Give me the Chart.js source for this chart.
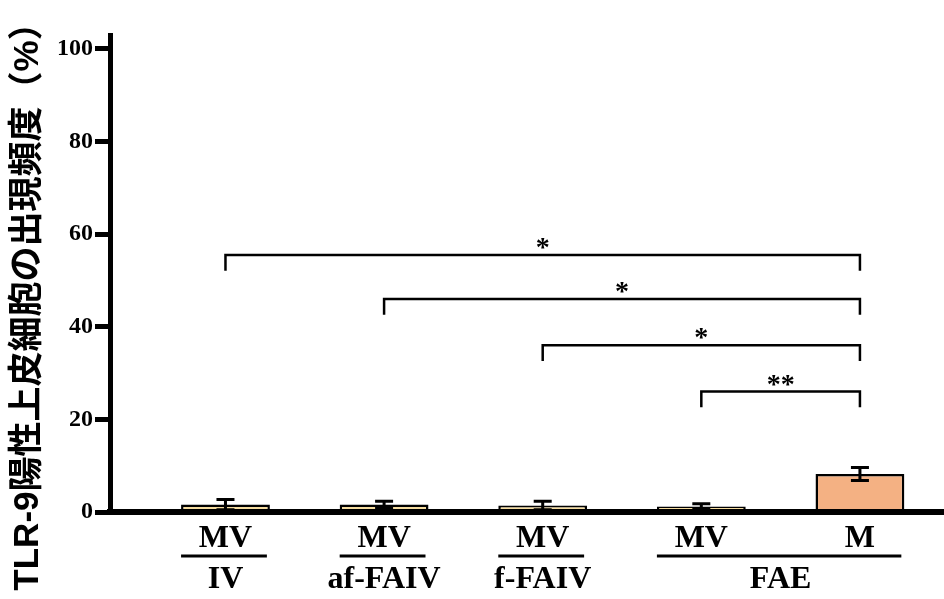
<!DOCTYPE html>
<html>
<head>
<meta charset="utf-8">
<script src="https://cdn.jsdelivr.net/npm/chart.js@4/dist/chart.umd.min.js"></script>
<style>
  html, body { margin: 0; padding: 0; background: #fff; }
  #wrap { width: 944px; height: 599px; }
</style>
</head>
<body>
<div id="wrap"><canvas id="chart"></canvas></div>
<script>
// sub-labels under each bar and the values
const subLabels = ['MV', 'MV', 'MV', 'MV', 'M'];
const means = [1.6, 1.6, 1.4, 1.2, 8.2];
const errors = [1.1, 0.7, 0.9, 0.6, 1.4];
const barColors = ['#f5dca0', '#f5dca0', '#f5dca0', '#f5dca0', '#f4b183'];

// group labels under the underline
const groupLabels = ['IV', 'af-FAIV', 'f-FAIV', 'FAE'];
const groupFirst = [0, 1, 2, 3];
const groupLast = [0, 1, 2, 4];

// significance brackets
const sigFrom = [0, 1, 2, 3];
const sigTo = [4, 4, 4, 4];
const sigHeight = [55.5, 46, 36, 26];
const sigMarks = ['*', '*', '*', '**'];

const yTicks = [0, 20, 40, 60, 80, 100];
const yTitle = 'TLR-9陽性上皮細胞の出現頻度（%）';

const serif = '"Liberation Serif", "Times New Roman", serif';

const extras = {
  id: 'extras',
  afterDatasetsDraw(chart) {
    const { ctx, scales: { x, y } } = chart;
    ctx.save();
    ctx.strokeStyle = '#000';
    ctx.lineWidth = 3;
    means.forEach((m, i) => {
      const px = x.getPixelForValue(i);
      const top = y.getPixelForValue(m + errors[i]);
      const bot = y.getPixelForValue(Math.max(0, m - errors[i]));
      ctx.beginPath();
      ctx.moveTo(px, top); ctx.lineTo(px, bot);
      ctx.moveTo(px - 9, top); ctx.lineTo(px + 9, top);
      ctx.moveTo(px - 9, bot); ctx.lineTo(px + 9, bot);
      ctx.stroke();
    });
    ctx.restore();
  },
  afterDraw(chart) {
    const { ctx, chartArea, scales: { x, y } } = chart;
    const bars = chart.getDatasetMeta(0).data;
    ctx.save();

    // brackets
    ctx.strokeStyle = '#000';
    ctx.lineWidth = 2.5;
    ctx.fillStyle = '#000';
    ctx.font = 'bold 28px ' + serif;
    ctx.textAlign = 'center';
    ctx.textBaseline = 'alphabetic';
    sigFrom.forEach((f, i) => {
      const x1 = x.getPixelForValue(f);
      const x2 = x.getPixelForValue(sigTo[i]);
      const yl = y.getPixelForValue(sigHeight[i]);
      const yb = y.getPixelForValue(sigHeight[i] - 3.4);
      ctx.beginPath();
      ctx.moveTo(x1, yb); ctx.lineTo(x1, yl); ctx.lineTo(x2, yl); ctx.lineTo(x2, yb);
      ctx.stroke();
      ctx.fillText(sigMarks[i], (x1 + x2) / 2, yl + 1);
    });

    // group underlines and labels
    const lineY = chartArea.bottom + 44;
    const textY = chartArea.bottom + 68;
    ctx.lineWidth = 3;
    ctx.font = 'bold 32px ' + serif;
    ctx.textBaseline = 'middle';
    groupLabels.forEach((g, i) => {
      const a = bars[groupFirst[i]];
      const b = bars[groupLast[i]];
      const left = a.x - a.width / 2;
      const right = b.x + b.width / 2 - 3;
      ctx.beginPath();
      ctx.moveTo(left, lineY); ctx.lineTo(right, lineY);
      ctx.stroke();
      ctx.fillText(g, (a.x + b.x) / 2, textY);
    });

    // y title
    ctx.translate(28, 298);
    ctx.rotate(-Math.PI / 2);
    ctx.font = 'bold 35px "Liberation Sans", "Noto Sans CJK JP", sans-serif';
    ctx.textBaseline = 'middle';
    ctx.fillText(yTitle, 0, 0);
    ctx.restore();
  }
};

new Chart(document.getElementById('chart'), {
  type: 'bar',
  data: {
    datasets: [{
      data: means.map((v, i) => ({ x: i, y: v })),
      backgroundColor: barColors,
      borderColor: '#000',
      borderWidth: 2.5,
      barPercentage: 0.56,
      categoryPercentage: 1
    }]
  },
  options: {
    responsive: true,
    maintainAspectRatio: false,
    animation: false,
    layout: { padding: { top: 35, left: 0, right: 0, bottom: 0 } },
    plugins: { legend: { display: false }, tooltip: { enabled: false } },
    scales: {
      x: {
        type: 'linear',
        offset: false,
        min: -0.728,
        max: 4.53,
        afterBuildTicks: s => { s.ticks = subLabels.map((_, i) => ({ value: i })); },
        afterFit: s => { s.height = 87; },
        grid: { display: false, drawTicks: false },
        border: { display: true, color: '#000', width: 6, z: 1 },
        ticks: {
          callback: v => subLabels[v],
          color: '#000',
          font: { family: serif, size: 32, weight: 'bold' },
          padding: 8,
          maxRotation: 0,
          autoSkip: false
        }
      },
      y: {
        min: 0,
        max: 103,
        afterBuildTicks: s => { s.ticks = yTicks.map(v => ({ value: v })); },
        afterFit: s => { s.width = 110; },
        grid: { drawOnChartArea: false, drawTicks: true, tickLength: 15, tickWidth: 5, tickColor: '#000', color: '#000', lineWidth: 5 },
        border: { display: true, color: '#000', width: 5, z: 1 },
        ticks: {
          color: '#000',
          font: { family: serif, size: 24, weight: 'bold' },
          padding: 2
        }
      }
    }
  },
  plugins: [extras]
});
</script>
</body>
</html>
